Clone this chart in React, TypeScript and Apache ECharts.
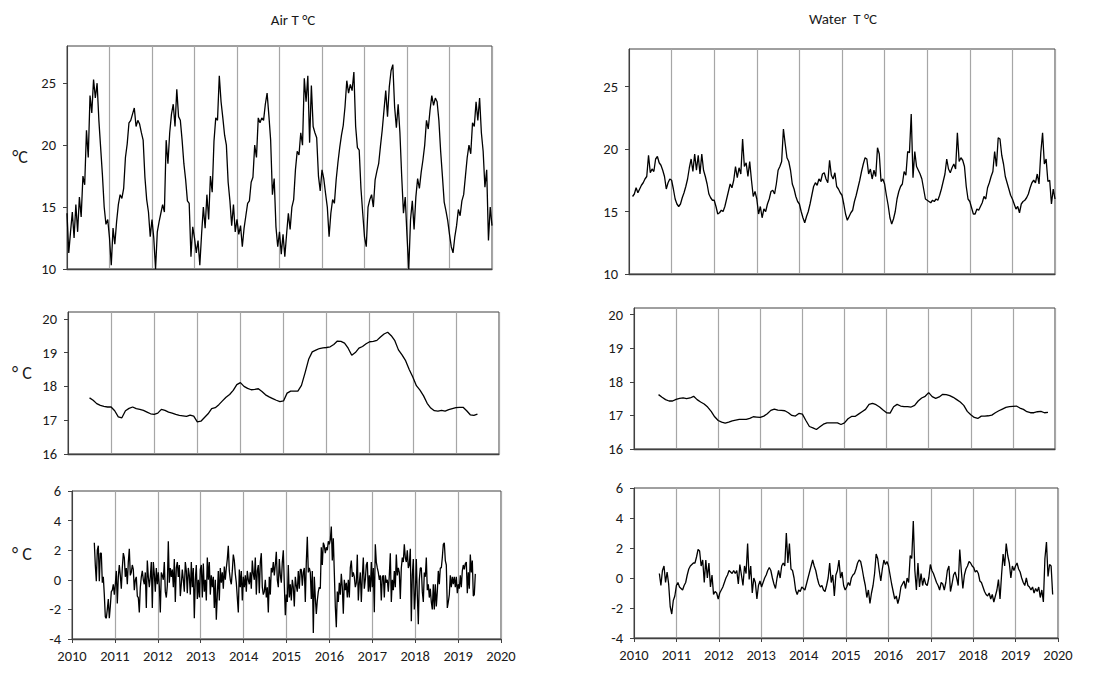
import React, { useEffect, useRef } from "react";
import * as echarts from "echarts";

// ---------- Data ----------
const yearTicks = [2010, 2011, 2012, 2013, 2014, 2015, 2016, 2017, 2018, 2019, 2020];

// Air temperature, semi-monthly, from 2010.0
const airRawStart = 2010.0;
const airRawStep = 1 / 24;
const airRaw = [
  14.5, 11.3, 13.0, 14.6, 12.5, 15.2, 13.0, 15.8, 14.2, 17.5, 16.8, 21.2, 19.0, 24.0, 22.6, 25.3, 23.8, 25.0, 22.0, 19.8, 17.6, 15.0, 13.6, 14.0,
  12.5, 10.3, 13.3, 12.0, 13.8, 15.2, 16.0, 15.7, 16.5, 19.0, 20.1, 21.8, 22.0, 22.5, 23.0, 21.5, 22.0, 21.7, 21.0, 20.4, 17.4, 15.6, 14.6, 12.6,
  14.0, 12.5, 10.0, 13.0, 13.8, 14.5, 15.2, 14.6, 20.4, 18.5, 21.0, 22.5, 23.3, 21.5, 24.5, 22.3, 22.0, 20.4, 18.5, 17.2, 15.5, 15.3, 11.0, 13.4,
  12.5, 11.3, 12.3, 10.3, 12.8, 15.0, 13.3, 16.0, 14.0, 17.5, 16.2, 20.3, 22.2, 22.0, 25.6, 23.5, 22.2, 20.8, 20.0, 17.0, 15.5, 13.5, 15.2, 13.0,
  14.0, 12.8, 13.5, 11.8, 13.3, 14.3, 15.3, 15.5, 17.0, 17.4, 20.0, 19.0, 22.2, 21.8, 22.2, 22.0, 23.3, 24.2, 22.4, 20.4, 16.0, 17.3, 13.4, 11.8,
  13.0, 11.2, 12.8, 11.0, 12.8, 14.5, 13.2, 15.0, 15.6, 18.0, 19.5, 19.2, 21.0, 20.0, 25.4, 23.5, 25.6, 20.2, 24.8, 21.5, 21.0, 20.6, 17.5, 16.3,
  18.0, 17.3, 16.1, 15.0, 12.6, 14.5, 15.6, 15.3, 17.2, 18.6, 19.8, 20.8, 21.6, 23.1, 25.2, 24.2, 24.9, 24.4, 25.9, 21.5, 19.8, 19.6, 16.5, 14.5,
  12.6, 11.8, 15.0, 15.6, 16.0, 15.0, 17.2, 17.9, 18.5, 19.9, 21.2, 22.8, 24.4, 22.3, 24.7, 26.0, 26.5, 23.1, 21.4, 23.3, 21.0, 17.5, 14.5, 15.8,
  12.7, 10.0, 14.0, 15.5, 13.2, 15.8, 17.3, 16.5, 17.8, 18.8, 20.0, 22.0, 21.3, 22.8, 24.0, 23.2, 23.8, 23.5, 22.0, 19.5, 17.5, 15.4, 14.7, 13.9,
  12.8, 11.8, 11.3, 12.6, 13.5, 14.8, 14.3, 15.5, 16.0, 17.5, 19.0, 20.0, 19.3, 21.8, 21.5, 23.5, 22.0, 23.8, 21.0, 19.5, 16.6, 18.0, 12.3, 15.0,
  13.5,
];

// Water temperature, semi-monthly, from early Feb 2010
const waterRawStart = 2010 + 2 / 24;
const waterRawStep = 1 / 24;
const waterRaw = [
  16.2, 16.4, 16.9, 16.5, 16.8, 17.1, 17.3, 17.6, 17.8, 19.5, 18.1, 18.4, 18.2, 19.2, 19.4, 18.9, 18.7, 18.3, 17.8, 16.8, 17.3, 17.6,
  17.5, 16.8, 16.0, 15.6, 15.4, 15.6, 16.1, 16.5, 17.0, 17.6, 18.5, 19.2, 18.2, 19.6, 18.3, 19.5, 18.0, 19.6, 18.3, 17.8, 17.2, 16.4, 16.1, 15.9,
  15.9, 15.4, 14.8, 14.9, 15.1, 15.0, 15.4, 16.0, 16.6, 17.2, 16.9, 17.5, 18.6, 17.7, 18.5, 18.0, 20.8, 18.6, 18.9, 17.8, 19.0, 17.5, 16.2, 16.6,
  16.0, 14.8, 15.4, 14.5, 15.2, 15.0, 15.6, 16.0, 16.6, 16.7, 16.4, 17.2, 18.3, 18.6, 19.0, 21.6, 20.4, 19.3, 19.0, 18.3, 17.2, 16.8, 16.2, 15.8,
  15.6, 15.0, 14.5, 14.1, 14.6, 15.0, 15.6, 16.3, 17.0, 17.3, 17.1, 17.6, 17.4, 18.0, 18.1, 17.6, 17.3, 19.1, 17.9, 17.6, 18.1, 17.0, 16.8, 16.5,
  16.3, 15.6, 14.8, 14.3, 14.6, 14.9, 15.1, 15.8, 16.3, 16.9, 17.5, 18.2, 18.8, 19.3, 19.2, 18.0, 18.4, 17.6, 18.3, 17.8, 20.1, 19.6, 17.4, 17.6,
  17.2, 16.3, 15.5, 14.5, 14.0, 14.4, 15.0, 16.0, 16.6, 17.0, 17.2, 18.2, 17.9, 19.8, 19.7, 22.8, 17.7, 19.8, 18.6, 18.3, 18.0, 17.6, 16.8, 16.0,
  15.9, 15.8, 15.7, 15.9, 15.8, 16.0, 15.9, 16.3, 16.8, 17.4, 18.0, 19.2, 18.4, 18.1, 18.5, 18.8, 18.4, 21.3, 19.0, 19.3, 19.1, 18.6, 17.0, 16.0,
  15.8, 15.3, 14.8, 14.8, 15.2, 15.1, 15.4, 15.7, 16.2, 16.0, 16.9, 17.3, 17.8, 18.2, 19.8, 18.6, 20.9, 20.8, 19.5, 18.8, 17.8, 17.3, 16.8, 16.3,
  16.0, 15.6, 15.2, 15.4, 14.9, 15.6, 15.8, 15.9, 16.1, 16.4, 16.9, 17.3, 17.5, 17.3, 18.0, 17.2, 19.7, 21.3, 18.8, 19.2, 17.4, 17.5, 15.6, 16.8,
  16.0,
];

// Trends, monthly
const airTrendStart = 2010.5;
const airTrendStep = 1 / 12;
const airTrend = [
  17.66, 17.59, 17.49, 17.44, 17.41, 17.39, 17.39, 17.28, 17.10, 17.07, 17.28, 17.35,
  17.39, 17.34, 17.32, 17.29, 17.24, 17.19, 17.17, 17.21, 17.32, 17.29, 17.24, 17.21,
  17.17, 17.14, 17.13, 17.11, 17.15, 17.12, 16.95, 16.97, 17.08, 17.19, 17.34, 17.37,
  17.46, 17.57, 17.68, 17.76, 17.88, 18.05, 18.11, 18.00, 17.94, 17.90, 17.91, 17.93,
  17.85, 17.75, 17.69, 17.64, 17.59, 17.55, 17.57, 17.80, 17.86, 17.86, 17.86, 18.03,
  18.40, 18.80, 19.02, 19.07, 19.12, 19.14, 19.15, 19.17, 19.24, 19.34, 19.33, 19.28,
  19.13, 18.92, 19.00, 19.13, 19.18, 19.26, 19.32, 19.33, 19.36, 19.46, 19.55, 19.60,
  19.50, 19.35, 19.08, 18.93, 18.76, 18.50, 18.28, 18.02, 17.89, 17.72, 17.50, 17.36,
  17.28, 17.27, 17.29, 17.27, 17.31, 17.34, 17.37, 17.38, 17.38, 17.28, 17.16, 17.14,
  17.18,
];

const waterTrendStart = 2010.583;
const waterTrendStep = 1 / 12;
const waterTrend = [
  17.62, 17.54, 17.47, 17.43, 17.43, 17.48, 17.51, 17.52, 17.50, 17.52, 17.57, 17.47,
  17.40, 17.34, 17.25, 17.12, 16.96, 16.85, 16.80, 16.77, 16.80, 16.84, 16.86, 16.88,
  16.88, 16.88, 16.91, 16.96, 16.95, 16.94, 16.98, 17.05, 17.15, 17.19, 17.16, 17.15,
  17.14, 17.08, 17.00, 16.98, 17.06, 17.04, 16.85, 16.67, 16.63, 16.58, 16.66, 16.74,
  16.78, 16.78, 16.78, 16.78, 16.73, 16.78, 16.90, 16.97, 16.97, 17.04, 17.11, 17.18,
  17.33, 17.36, 17.32, 17.25, 17.16, 17.08, 17.07, 17.26, 17.33, 17.28, 17.26, 17.26,
  17.25, 17.30, 17.43, 17.52, 17.57, 17.68, 17.56, 17.51, 17.55, 17.63, 17.62, 17.59,
  17.54, 17.47, 17.40, 17.30, 17.12, 17.02, 16.94, 16.91, 16.98, 16.98, 16.99, 17.01,
  17.08, 17.14, 17.19, 17.24, 17.26, 17.27, 17.28, 17.22, 17.18, 17.11, 17.08, 17.08,
  17.11, 17.12, 17.08, 17.09,
];

// Residuals (about 43 per year)
const airResidStart = 2010.52;
const airResidStep = 0.02331;
const airResid = [
  2.5, 1.0, -0.1, 2.0, 2.3, -0.1, 1.8, 1.8, -0.2, 0.2, -1.0, -2.5, -2.6, -2.0, -1.3, -2.6, -1.8, -0.8, -0.7, -0.3, -1.0,
  -0.3, 0.6, -1.6, 0.2, 1.0, 0.3, -0.6, 0.8, 1.8, 1.5, 0.2, 0.8, -0.3, 1.2, 2.1, 0.3, 0.5, 1.0, 0.7, -0.7, 0.0, 0.2, -1.1, -1.2, -2.2, -0.5, 0.2, 0.6, 0.0, -0.3, 0.5, -1.9, 1.3, 0.2, -0.5, 0.2, 1.2, -1.9, 1.2, 0.4, -0.8, 0.8, -0.3,
  0.5, -0.4, -2.2, 0.5, 0.3, 0.0, 1.2, -0.8, -1.2, -0.4, 2.6, -0.2, 0.8, 0.2, 0.7, -0.5, 1.4, -1.5, 0.8, 1.2, 0.2, 1.0, -1.1, -0.3, 0.7, 0.0, -0.8, 1.2, 0.6, -0.9, 0.8, 0.3, -1.0, 1.2, -0.5, 0.8, -2.6, 0.0, 1.0, -1.3, 0.0, -1.2, 0.7,
  1.0, -1.2, 1.1, -0.8, 0.0, -1.4, 1.5, 0.0, 1.2, -1.0, 0.3, -0.5, 0.2, -1.9, 0.0, -2.7, -1.0, 0.6, -1.4, 0.8, -0.2, 0.5, -0.6, 0.9, 0.0, 0.8, 1.4, 2.3, 0.6, 0.0, -0.3, 0.6, 1.7, 1.3, 0.4, -0.2, -1.2, -2.2, 0.7, -0.5, 0.6, -1.4, 0.2,
  -0.5, 0.3, -0.8, 0.6, 0.0, -0.3, 0.5, -0.6, 1.3, 0.4, 0.0, 1.5, -1.0, 0.6, 1.0, -0.9, 1.2, 1.8, -0.5, -1.0, -0.8, 0.0, -1.2, -0.5, -2.2, 0.2, -1.0, 0.8, 0.5, 1.2, 0.3, 1.0, 1.9, 0.0, -0.5, 1.4, 0.3, -0.2, 1.2, 2.0, -0.3, -2.4, -1.0,
  -1.5, 1.0, -1.2, -0.3, -1.4, 0.0, -0.5, -1.8, 0.2, -0.4, -0.8, 0.6, -0.6, 0.7, 0.7, -0.4, 0.5, 0.8, -1.5, 1.2, 2.9, 0.5, 0.8, 0.5, -1.3, 0.6, -3.6, 0.2, -1.2, -2.3, -1.4, -0.8, -0.5, -0.6, 2.2, 1.0, 2.5, 2.3, 1.8, 2.2, 2.0, 2.6, 2.4,
  2.7, 3.6, 1.3, 2.8, 0.5, -1.8, -3.2, -0.8, -1.5, -0.2, -1.0, 0.4, -0.5, -2.3, 0.0, -0.7, -0.2, -1.2, 0.0, -1.2, 0.8, 1.3, 0.2, 0.5, 0.2, -0.5, -0.2, 1.7, -1.4, -0.2, 0.5, -1.5, 0.2, 1.5, -0.6, 0.0, 1.0, 1.2, -0.8, 0.3, -0.8, 1.2, -0.5,
  0.8, -2.2, 2.4, 1.2, 0.8, 0.5, 0.0, 0.3, -1.4, 0.2, 0.3, -1.2, 0.3, -0.2, 0.0, -0.8, 0.3, 1.8, -1.5, 0.0, -0.7, 0.6, -0.5, 1.7, 0.3, 0.8, 0.5, -1.3, 0.8, 1.5, 1.2, 2.4, 1.5, 1.2, 2.0, 0.8, 1.0, 2.1, -2.8, 0.3, 1.4, -2.0, -1.0,
  1.4, -1.0, -3.0, 0.0, 0.8, 0.8, -0.8, -1.5, 0.5, 0.2, 1.5, -0.7, -0.3, -1.2, -0.6, -1.5, -2.0, -0.3, -2.0, -0.3, -1.8, -0.8, 0.6, -0.3, 0.8, 0.8, 1.5, 2.4, 2.5, 1.3, 1.0, -1.9, -1.5, -1.0, 0.3, -0.5, 0.2, -0.3, 0.2, -0.5, 0.2, -0.9, -0.3,
  -0.6, 0.3, -0.5, 0.6, 1.0, 0.7, 1.1, 1.2, -0.9, 0.5, -0.6, 1.7, 0.5, 1.3, -1.1, -1.0, 0.4,
];

const waterResidStart = 2010.598;
const waterResidStep = 0.03652;
const waterResid = [
  0.3, -0.5, 0.5, 0.8, -0.3, 0.4, -0.4, -1.9, -2.4, -1.5, -1.2, -0.5, -0.3, -0.6, -0.7, -0.8, -0.5, -0.3, 0.2, 0.6,
  0.8, 0.9, 1.0, 1.0, 1.4, 1.9, 1.8, 0.8, 1.2, -0.3, 1.2, 0.0, 1.0, -0.6, 0.2, -1.1, -0.9, -1.0, -1.4, -1.0,
  -0.8, -0.6, -0.3, 0.0, 0.2, 0.5, 0.4, 0.3, 0.5, 0.3, 0.5, -0.4, 0.9, 0.2, -0.5, 0.8, 0.3, 2.3, -0.1, 0.8,
  -1.0, 0.0, -0.3, -1.4, -0.5, -0.2, -0.6, -0.3, 0.0, 0.2, 0.5, 0.7, 0.5, 0.0, -0.4, -0.7, 0.0, 0.5, 0.0, 0.8,
  1.0, 0.8, 3.0, 1.0, 2.3, 0.6, 0.5, 0.0, -0.8, -1.1, -0.8, -0.9, -0.6, -0.7, -0.8, -0.4, 0.0, 0.4, 0.8, 1.2,
  0.8, 0.5, 0.0, -0.4, -0.6, -0.5, -0.8, -0.9, -0.5, 0.0, 1.0, -0.3, 0.2, -1.2, 0.2, 0.5, 1.2, 0.0, 0.4, -0.5,
  -0.8, -0.6, -0.3, -0.5, 0.0, 0.2, 0.3, 0.6, 1.0, 1.2, 1.1, 0.6, 0.0, -0.5, -1.3, -0.8, -1.7, -1.0, -0.5, 0.3,
  1.6, 1.3, 0.5, -0.2, 0.6, 1.2, 0.9, 1.1, 0.8, 0.2, -0.4, -0.9, -1.4, -1.2, -1.7, -1.3, -0.6, -0.4, -0.2, -0.7,
  0.0, -0.3, 1.5, 1.3, 3.8, 0.5, -0.8, 1.0, -0.6, 0.3, -0.5, 0.0, -0.4, -0.5, 0.0, 0.9, 0.5, 0.3, 0.0, -0.3,
  -0.5, -0.8, -0.3, -0.4, -0.8, -0.3, 0.5, 0.8, -0.9, -0.4, 0.2, 0.4, 0.0, -0.5, 1.9, 0.5, -0.7, 0.2, 0.6, 0.8,
  1.1, 1.0, 0.8, 0.7, 0.4, 0.5, 0.3, -0.2, -0.3, -0.6, -0.9, -1.1, -1.2, -1.0, -1.4, -1.1, -1.6, -1.2, -0.8, -0.1,
  -1.4, 0.2, 1.6, 0.8, 2.3, 1.5, 1.0, 0.0, 0.8, 0.5, 0.8, 1.0, 0.6, 0.4, 0.0, -0.3, -0.5, 0.0, -0.5, -0.6,
  -0.8, -0.6, -1.0, -0.7, -0.9, -0.6, -1.3, -0.8, -1.6, 1.3, 2.4, 0.1, 0.9, 0.8, -1.1,
];

// ---------- Chart ----------
const FONT = "Carlito, Calibri, Lato, sans-serif";
const TEXT = "#1a1a1a";
const AXIS = "#404040";
const GRIDLINE = "#a6a6a6";

function toPairs(values: number[], start: number, step: number) {
  return values.map((v, i) => [start + i * step, v]);
}

const panels = [
  { left: 67, top: 46, width: 425, height: 223, min: 10, max: 28, ticks: [10, 15, 20, 25], labels: false },
  { left: 629, top: 49, width: 426, height: 225, min: 10, max: 28, ticks: [10, 15, 20, 25], labels: false },
  { left: 68, top: 312, width: 431, height: 142, min: 16, max: 20.2, ticks: [16, 17, 18, 19, 20], labels: false },
  { left: 634, top: 308, width: 421, height: 141, min: 16, max: 20.2, ticks: [16, 17, 18, 19, 20], labels: false },
  { left: 72, top: 491, width: 429, height: 148, min: -4, max: 6, ticks: [-4, -2, 0, 2, 4, 6], labels: true },
  { left: 634, top: 488, width: 424, height: 150, min: -4, max: 6, ticks: [-4, -2, 0, 2, 4, 6], labels: true },
];

export default function App() {
  const ref = useRef<HTMLDivElement>(null);

  useEffect(() => {
    if (!ref.current) return;
    const chart = echarts.init(ref.current, null, { renderer: "svg" });

    const grid = panels.map((p) => ({
      left: p.left,
      top: p.top,
      width: p.width,
      height: p.height,
      show: true,
      borderColor: AXIS,
      borderWidth: 1,
      backgroundColor: "transparent",
      containLabel: false,
    }));

    const xAxis = panels.map((p, i) => ({
      type: "value",
      gridIndex: i,
      min: yearTicks[0],
      max: yearTicks[yearTicks.length - 1],
      interval: 1,
      axisLine: { show: true, onZero: false, lineStyle: { color: AXIS, width: 1.3 } },
      axisTick: { show: p.labels, length: 4, lineStyle: { color: AXIS } },
      axisLabel: {
        show: p.labels,
        formatter: (v: number) => String(v),
        fontSize: 14.5,
        color: TEXT,
        fontFamily: FONT,
        margin: 9,
      },
      splitLine: { show: true, lineStyle: { color: GRIDLINE, width: 1.2 } },
    }));

    const yAxis = panels.map((p, i) => ({
      type: "value",
      gridIndex: i,
      min: p.min,
      max: p.max,
      axisLine: { show: true, lineStyle: { color: AXIS, width: 1 } },
      axisTick: { show: true, length: 4, customValues: p.ticks, lineStyle: { color: AXIS } },
      axisLabel: {
        customValues: p.ticks,
        formatter: (v: number) => (p.ticks.indexOf(v) >= 0 ? String(v) : ""),
        fontSize: 14.5,
        color: TEXT,
        fontFamily: FONT,
        margin: 11,
      },
      splitLine: { show: false },
    }));

    const lineSeries = (i: number, data: number[][]) => ({
      type: "line",
      xAxisIndex: i,
      yAxisIndex: i,
      data,
      showSymbol: false,
      symbol: "none",
      lineStyle: { color: "#000000", width: 1.3 },
      silent: true,
    });

    const series = [
      lineSeries(0, toPairs(airRaw, airRawStart, airRawStep)),
      lineSeries(1, toPairs(waterRaw, waterRawStart, waterRawStep)),
      lineSeries(2, toPairs(airTrend, airTrendStart, airTrendStep)),
      lineSeries(3, toPairs(waterTrend, waterTrendStart, waterTrendStep)),
      lineSeries(4, toPairs(airResid, airResidStart, airResidStep)),
      lineSeries(5, toPairs(waterResid, waterResidStart, waterResidStep)),
    ];

    const textStyle = (text: string, size: number) => ({
      text,
      fill: TEXT,
      fontSize: size,
      fontFamily: FONT,
      align: "center",
      verticalAlign: "middle",
    });

    chart.setOption({
      animation: false,
      backgroundColor: "#ffffff",
      grid,
      xAxis,
      yAxis,
      series,
      graphic: [
        { type: "text", x: 293, y: 20, style: textStyle("Air T \u00b0C", 15) },
        { type: "text", x: 843, y: 19, style: textStyle("Water  T \u00b0C", 15) },
        { type: "text", x: 20, y: 157, style: textStyle("\u00b0C", 18) },
        { type: "text", x: 22, y: 373, style: textStyle("\u00b0 C", 18) },
        { type: "text", x: 22, y: 554, style: textStyle("\u00b0 C", 18) },
      ],
    });

    return () => chart.dispose();
  }, []);

  return (
    <div style={{ position: "absolute", left: 0, top: 0, width: 1120, height: 675, background: "#fff" }}>
      <div ref={ref} style={{ width: 1120, height: 675 }} />
    </div>
  );
}
